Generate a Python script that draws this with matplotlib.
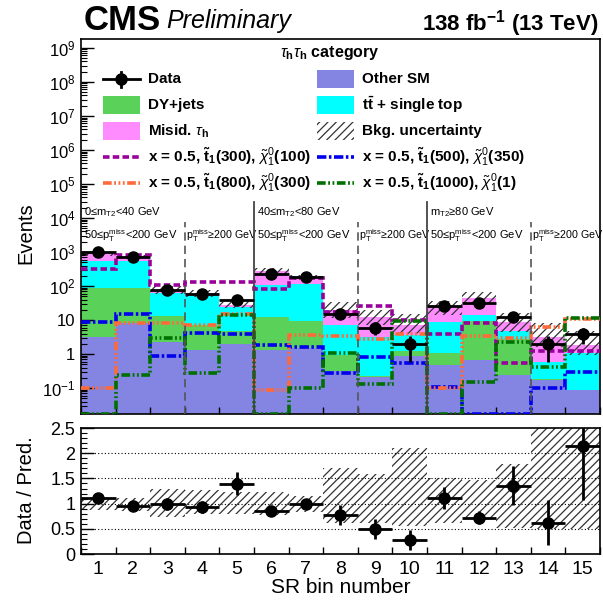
import numpy as np
import matplotlib
matplotlib.use("Agg")
import matplotlib.pyplot as plt
from matplotlib.ticker import FixedLocator, MultipleLocator, NullLocator
from matplotlib.patches import Rectangle

plt.rcParams['font.family'] = ['Liberation Sans', 'DejaVu Sans']
plt.rcParams['mathtext.fontset'] = 'custom'
plt.rcParams['mathtext.rm'] = 'Liberation Sans'
plt.rcParams['mathtext.it'] = 'Liberation Sans:italic'
plt.rcParams['mathtext.bf'] = 'Liberation Sans:bold'
plt.rcParams['hatch.linewidth'] = 0.9

# ── Yields per signal-region bin ───────────────────────
sr_bins = np.arange(1, 16)
data_obs = np.array([1000, 720, 76, 57, 39, 230, 180, 15, 6, 2, 26, 32, 12, 2, 4])

other_sm = np.array([3.2, 8.0, 2.3, 1.3, 2.0, 1.3, 1.5, 0.32, 0.21, 0.89, 0.48, 0.66, 0.24, 0.17, 0.087])
dy_jets = np.array([82, 81, 10.7, 5.8, 2.6, 11.3, 7.8, 0.63, 0.02, 0.31, 0.57, 8.6, 2.6, 0.01, 0.003])
ttbar_top = np.array([465, 436, 48, 42, 19.4, 97, 106, 6.3, 3.0, 2.4, 7.9, 4.7, 1.8, 0.42, 0.96])
misid_tau = np.array([353, 225, 15.4, 12.0, 3.9, 157, 66, 12.1, 8.8, 3.5, 14.6, 30.4, 4.2, 2.6, 0.81])

# relative background uncertainty (up / down)
unc_up = np.array([0.12, 0.12, 0.29, 0.27, 0.24, 0.24, 0.15, 0.70, 0.59, 1.10, 0.50, 0.46, 0.79, 1.6, 1.6])
unc_down = np.array([0.13, 0.14, 0.26, 0.20, 0.20, 0.22, 0.16, 0.39, 0.39, 0.44, 0.39, 0.31, 0.49, 0.50, 0.50])

# signal benchmarks (0 = empty bin)
sig_300_100 = np.array([310, 800, 110, 134, 134, 82, 175, 17, 26, 10, 3.9, 8.0, 0.54, 1.2, 1.2])
sig_500_350 = np.array([8.9, 15, 0.87, 4.1, 3.8, 1.9, 1.6, 0.28, 0.79, 0.56, 0.11, 0, 0, 0.10, 0.30])
sig_800_300 = np.array([0.098, 8.0, 8.3, 7.1, 15, 0.087, 3.5, 3.3, 2.7, 4.0, 0.098, 3.4, 3.0, 6.3, 10.5])
sig_1000_1 = np.array([0, 0.24, 2.9, 0.27, 14, 0, 0.10, 1.1, 0.13, 9.5, 0, 0.15, 2.2, 0.41, 11.5])

edges = np.arange(0.5, 16.5)
YMIN, YMAX = 0.0172, 1.83e9

bkg_names = ["Other SM", "DY+jets", r"$\mathbf{t\bar{t}}$ + single top", r"Misid. $\tau_{\mathbf{h}}$"]
bkg_colors = ["#8484e2", "#5ad25a", "#00ffff", "#ff8cff"]

sig_list = [sig_300_100, sig_500_350, sig_800_300, sig_1000_1]
sig_names = [r"x = 0.5, $\mathbf{\tilde{t}_{1}}$(300), $\tilde{\chi}^{0}_{1}$(100)",
             r"x = 0.5, $\mathbf{\tilde{t}_{1}}$(500), $\tilde{\chi}^{0}_{1}$(350)",
             r"x = 0.5, $\mathbf{\tilde{t}_{1}}$(800), $\tilde{\chi}^{0}_{1}$(300)",
             r"x = 0.5, $\mathbf{\tilde{t}_{1}}$(1000), $\tilde{\chi}^{0}_{1}$(1)"]
sig_colors = ["#990099", "#0000ee", "#ff6a3a", "#007000"]
sig_styles = [(0, (1.8, 0.9)),
              (0, (2.6, 0.7, 0.7, 0.7)),
              (0, (2.4, 0.7, 0.5, 0.7, 0.5, 0.7, 0.5, 0.7)),
              (0, (2.4, 0.7, 0.5, 0.7, 0.5, 0.7))]

pred = other_sm + dy_jets + ttbar_top + misid_tau
ratio = data_obs / pred
ratio_err = np.sqrt(data_obs) / pred

fig = plt.figure(figsize=(6.03, 6.02), dpi=100)
ax = fig.add_axes([0.1343, 0.3123, 0.8607, 0.6229])
ax2 = fig.add_axes([0.1343, 0.0797, 0.8607, 0.2093])

# ── Upper panel: stacked backgrounds ──────────────────
base = np.full(len(sr_bins), 1e-4)
for vals, col in zip([other_sm, dy_jets, ttbar_top, misid_tau], bkg_colors):
    ax.stairs(base + vals, edges, baseline=base, fill=True, color=col, lw=0, zorder=1)
    base = base + vals

ax.stairs(pred * (1 + unc_up), edges, baseline=pred * (1 - unc_down), fill=True,
          facecolor="none", edgecolor="#333333", hatch="////", lw=0, zorder=2)

for sig, col, ls in zip(sig_list, sig_colors, sig_styles):
    ax.stairs(np.clip(sig, YMIN, None), edges, baseline=None, color=col, ls=ls, lw=2.6, zorder=3)

ax.errorbar(sr_bins, data_obs, xerr=0.5, yerr=np.sqrt(data_obs), fmt="o", color="k",
            ms=8, lw=2, capsize=0, zorder=10)

# region separators
for xb in [5.5, 10.5]:
    ax.axvline(xb, ymin=0, ymax=0.565, color="#444444", lw=1.3, zorder=4)
for xb in [3.5, 8.5, 13.5]:
    ax.axvline(xb, ymin=0, ymax=0.512, color="#555555", lw=1.2, ls=(0, (5, 3)), zorder=4)

mt2_labels = [r"0≤m$_{\rm T2}$<40 GeV", r"40≤m$_{\rm T2}$<80 GeV", r"m$_{\rm T2}$≥80 GeV"]
blend = ax.get_xaxis_transform()
for i, lab in enumerate(mt2_labels):
    x0 = edges[5 * i] + 0.08
    ax.text(x0, 0.539, lab, transform=blend, fontsize=8, va="center", ha="left")
    ax.text(x0, 0.477, r"50≤p$_{\rm T}^{\rm miss}$<200 GeV", transform=blend, fontsize=8,
            va="center", ha="left")
    ax.text(edges[5 * i + 3] + 0.03, 0.477, r"p$_{\rm T}^{\rm miss}$≥200 GeV", transform=blend,
            fontsize=7.7, va="center", ha="left")

ax.set_xlim(0.5, 15.5)
ax.set_yscale("log")
ax.set_ylim(YMIN, YMAX)

decades = [10.0 ** k for k in range(-1, 10)]
dec_labels = [r"$10^{-1}$", "1", "10"] + [r"$10^{%d}$" % k for k in range(2, 10)]
ax.yaxis.set_major_locator(FixedLocator(decades))
ax.set_yticklabels(dec_labels)
minors = [m * 10.0 ** k for k in range(-2, 10) for m in range(2, 10)]
ax.yaxis.set_minor_locator(FixedLocator(minors))
ax.xaxis.set_major_locator(FixedLocator(edges))
ax.xaxis.set_minor_locator(NullLocator())
ax.tick_params(axis="both", which="both", direction="in")
ax.tick_params(axis="y", which="major", length=9, width=1, labelsize=12, pad=4)
ax.tick_params(axis="y", which="minor", length=4.5, width=0.8)
ax.tick_params(axis="x", which="major", length=5, width=1, labelbottom=False)
ax.set_ylabel("Events", fontsize=14.5)
ax.yaxis.set_label_coords(-0.087, 0.483)
for sp in ax.spines.values():
    sp.set_linewidth(1.2)

# ── Legend ─────────────────────────────────────────────
ax.text(0.48, 0.963, r"$\tau_{\mathbf{h}}\tau_{\mathbf{h}}$ category", transform=ax.transAxes,
        fontsize=11.5, fontweight="bold", ha="center", va="center")

tr = ax.transAxes
col_x = [0.042, 0.455]
row_y = [0.893, 0.824, 0.755, 0.685, 0.616]
hw, hh = 0.071, 0.048

def key_text(cx, ry, label):
    ax.text(cx + hw + 0.016, ry, label, transform=tr, fontsize=11, fontweight="bold",
            ha="left", va="center")

# data
cx, ry = col_x[0], row_y[0]
ax.plot([cx, cx + hw], [ry, ry], transform=tr, color="k", lw=2, clip_on=False)
ax.plot([cx + hw / 2] * 2, [ry - 0.02, ry + 0.02], transform=tr, color="k", lw=2, clip_on=False)
ax.plot([cx + hw / 2], [ry], "o", transform=tr, color="k", ms=8, clip_on=False)
key_text(cx, ry, "Data")

patch_slots = [(1, 0), (0, 1), (1, 1), (0, 2)]
for (c, r), name, col in zip(patch_slots, bkg_names, bkg_colors):
    ax.add_patch(Rectangle((col_x[c], row_y[r] - hh / 2), hw, hh, transform=tr,
                           facecolor=col, lw=0))
    key_text(col_x[c], row_y[r], name)

ax.add_patch(Rectangle((col_x[1], row_y[2] - hh / 2), hw, hh, transform=tr, facecolor="none",
                       edgecolor="#333333", hatch="////", lw=0))
key_text(col_x[1], row_y[2], "Bkg. uncertainty")

for (c, r), name, col, ls in zip([(0, 3), (1, 3), (0, 4), (1, 4)], sig_names, sig_colors, sig_styles):
    ax.plot([col_x[c], col_x[c] + hw], [row_y[r]] * 2, transform=tr, color=col, ls=ls, lw=2.6)
    key_text(col_x[c], row_y[r], name)

# ── Lower panel: data / prediction ────────────────────
ax2.stairs(1 + unc_up, edges, baseline=1 - unc_down, fill=True, facecolor="none",
           edgecolor="#333333", hatch="////", lw=0, zorder=1)
for yg in [0.5, 1.0, 1.5, 2.0]:
    ax2.axhline(yg, color="k", lw=0.8, ls=(0, (1, 2)), zorder=2)
ax2.errorbar(sr_bins, ratio, xerr=0.5, yerr=ratio_err, fmt="o", color="k", ms=8, lw=2,
             capsize=0, zorder=10)

ax2.set_xlim(0.5, 15.5)
ax2.set_ylim(0, 2.5)
ax2.xaxis.set_major_locator(FixedLocator(edges))
ax2.set_xticks(sr_bins, minor=True)
ax2.set_xticklabels([str(b) for b in sr_bins], minor=True)
ax2.yaxis.set_major_locator(FixedLocator([0, 0.5, 1, 1.5, 2, 2.5]))
ax2.set_yticklabels(["0", "0.5", "1", "1.5", "2", "2.5"])
ax2.yaxis.set_minor_locator(MultipleLocator(0.1))
ax2.tick_params(axis="both", which="both", direction="in")
ax2.tick_params(axis="x", which="major", length=5, width=1, labelbottom=False)
ax2.tick_params(axis="x", which="minor", length=0, labelsize=14, pad=5)
ax2.tick_params(axis="y", which="major", length=9, width=1, labelsize=13, pad=4)
ax2.tick_params(axis="y", which="minor", length=4.5, width=0.8)
ax2.set_ylabel("Data / Pred.", fontsize=14.5)
ax2.yaxis.set_label_coords(-0.087, 0.508)
ax2.set_xlabel("SR bin number", fontsize=15)
ax2.xaxis.set_label_coords(0.5, -0.19)
for sp in ax2.spines.values():
    sp.set_linewidth(1.2)

# ── Header ─────────────────────────────────────────────
fig.text(0.139, 0.950, "CMS", fontsize=25, fontweight="bold", ha="left", va="baseline")
fig.text(0.276, 0.953, "Preliminary", fontsize=18, fontstyle="italic", ha="left", va="baseline")
fig.text(0.992, 0.950, r"138 fb$^{\mathbf{-1}}$ (13 TeV)", fontsize=16, fontweight="bold",
         ha="right", va="baseline")

fig.savefig("out.png", dpi=100)
